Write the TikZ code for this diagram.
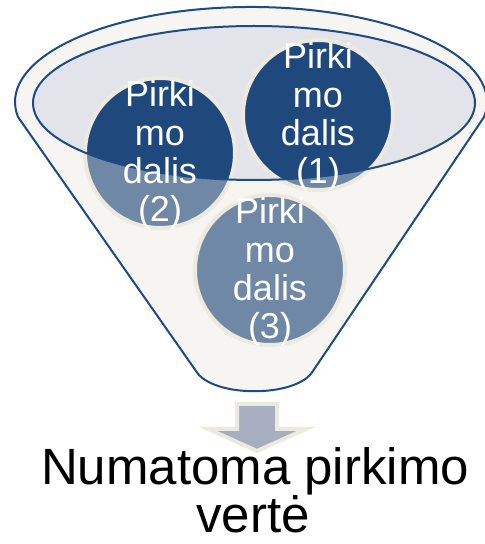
\documentclass[tikz,border=0pt]{standalone}
\usepackage{fontspec}
\setmainfont{Liberation Sans}
\definecolor{funnelfill}{HTML}{F6F5F1}
\definecolor{funnelline}{HTML}{1F4A85}
\definecolor{innerfill}{HTML}{E3E4E9}
\definecolor{darkc}{HTML}{1F497D}
\definecolor{fadec}{HTML}{6E88A6}
\definecolor{ringc}{HTML}{ECEADF}
\definecolor{arrowc}{HTML}{A6AEC0}
\begin{document}
\begin{tikzpicture}[x=1pt,y=1pt,
  ring/.style={draw=ringc, line width=4pt},
  lbl/.style={text=white, align=center, font=\fontsize{36}{38.4}\selectfont, inner sep=0pt},
  bigtxt/.style={text=black, anchor=base, inner sep=0pt, font=\fontsize{51}{48}\selectfont}]
\useasboundingbox (0,0) rectangle (485,544);
% funnel body
\path[fill=funnelfill, draw=funnelline, line width=2pt, line join=round]
  (18,427) arc[start angle=189.1, end angle=-9.1, x radius=236, y radius=95]
  -- (313,173) .. controls (297,146) and (212,146) .. (196,173) -- cycle;
% inner ellipse
\fill[innerfill] (254,441) ellipse [x radius=221, y radius=77];
% circles
\foreach \cx/\cy in {318/429,160/391,270/274} {
  \fill[fadec] (\cx,\cy) circle (75);
  \begin{scope}
    \clip (254,441) ellipse [x radius=221, y radius=77];
    \fill[darkc] (\cx,\cy) circle (75);
  \end{scope}
  \draw[ring] (\cx,\cy) circle (75);
}
\draw[funnelline, line width=2pt] (254,441) ellipse [x radius=221, y radius=77];
% labels
\node[lbl] (p1) at (318,427) {Pirki\\mo\\dalis\\(1)};
\node[lbl] (p2) at (160,389) {Pirki\\mo\\dalis\\(2)};
\node[lbl] (p3) at (270,272) {Pirki\\mo\\dalis\\(3)};
% arrow
\draw[ring, fill=arrowc, line join=miter]
  (237,140) -- (277,140) -- (277,115) -- (306,115) -- (257,93) -- (208,115) -- (237,115) -- cycle;
% result text
\node[bigtxt] (t1) at (255,59) {Numatoma pirkimo};
\node[bigtxt] (t2) at (253,11) {vertė};
\end{tikzpicture}
\end{document}
